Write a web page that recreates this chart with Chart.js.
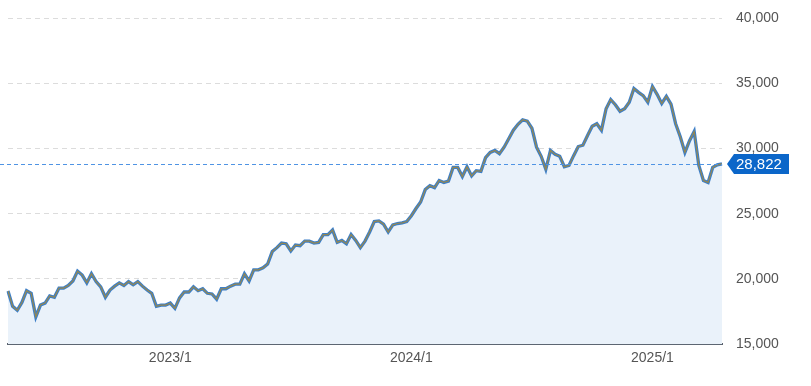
<!DOCTYPE html>
<html>
<head>
<meta charset="utf-8">
<script src="https://cdn.jsdelivr.net/npm/chart.js@4.4.1/dist/chart.umd.min.js"></script>
<style>
  body { margin: 0; background: #fff; }
  #wrap { width: 811px; height: 386px; position: relative; }
</style>
</head>
<body>
<div id="wrap"><canvas id="priceChart"></canvas></div>
<script>
// weekly closes, first one on 2022/5/6
const startDate = [2022, 5, 6];
const weeklyClose = [
  19080, 17900, 17600, 18200, 19100, 18900, 17100, 18000, 18150, 18700,
  18600, 19300, 19300, 19500, 19850, 20600, 20300, 19700, 20400, 19800,
  19400, 18600, 19150, 19450, 19700, 19500, 19800, 19550, 19800, 19450,
  19150, 18900, 17900, 18000, 18000,
  18150, 17750, 18550, 19000, 19000, 19400, 19100, 19250, 18900, 18850,
  18450, 19250, 19250, 19450, 19600, 19600, 20400, 19850, 20700, 20700,
  20850, 21150, 22100, 22400, 22750, 22700, 22150, 22600, 22550, 22900,
  22900, 22750, 22800, 23400, 23400, 23750, 22800, 22950, 22700, 23400,
  22950, 22400, 22900, 23600, 24400, 24450, 24200, 23600, 24150, 24250,
  24300, 24400, 24850, 25400, 25900, 26850, 27150, 27000, 27550, 27400,
  27500, 28550, 28550, 27850, 28600, 27900, 28300, 28250, 29300, 29700,
  29850, 29600, 30100, 30750, 31400, 31850, 32200, 32100, 31550, 30100,
  29400, 28400, 29850, 29550, 29400, 28600, 28700, 29450, 30150, 30250,
  31000, 31700, 31900, 31400, 33050, 33750, 33350, 32850, 33050, 33550,
  34600, 34300, 34050, 33550, 34750, 34150, 33450, 34000, 33400, 31900,
  30900, 29700, 30600, 31300, 28700, 27550, 27400, 28550, 28750, 28822
];
const yTicks = [15000, 20000, 25000, 30000, 35000, 40000];
const yearLabels = ["2023/1", "2024/1", "2025/1"];

// one label per week
const weekLabels = [];
const t0 = Date.UTC(startDate[0], startDate[1] - 1, startDate[2]);
for (let i = 0; i < weeklyClose.length; i++) {
  const d = new Date(t0 + i * 7 * 86400000);
  weekLabels.push(d.getUTCFullYear() + "/" + (d.getUTCMonth() + 1) + "/" + d.getUTCDate());
}

const lastPrice = weeklyClose[weeklyClose.length - 1];

const lastPriceTag = {
  id: "lastPriceTag",
  afterDatasetsDraw(chart) {
    const { ctx, chartArea, scales: { y } } = chart;
    const py = Math.round(y.getPixelForValue(lastPrice)) + 0.5;
    ctx.save();
    ctx.strokeStyle = "#4f94e4";
    ctx.lineWidth = 1;
    ctx.setLineDash([4, 3]);
    ctx.beginPath();
    ctx.moveTo(0, py);
    ctx.lineTo(chartArea.right, py);
    ctx.stroke();
    ctx.restore();
  },
  afterDraw(chart) {
    const { ctx, chartArea, scales: { y } } = chart;
    const py = Math.round(y.getPixelForValue(lastPrice));
    const x0 = chartArea.right + 5, x1 = x0 + 7, x2 = x0 + 62, h = 10;
    ctx.save();
    ctx.fillStyle = "#0b66c9";
    ctx.beginPath();
    ctx.moveTo(x0, py);
    ctx.lineTo(x1, py - h);
    ctx.lineTo(x2, py - h);
    ctx.lineTo(x2, py + h);
    ctx.lineTo(x1, py + h);
    ctx.closePath();
    ctx.fill();
    ctx.fillStyle = "#fff";
    ctx.font = "15px 'Liberation Sans', Arial, sans-serif";
    ctx.textAlign = "left";
    ctx.textBaseline = "middle";
    ctx.fillText(lastPrice.toLocaleString("en-US"), x1 + 2, py + 1);
    ctx.restore();
  }
};

const ctx = document.getElementById("priceChart").getContext("2d");
new Chart(ctx, {
  type: "line",
  data: {
    labels: weekLabels,
    datasets: [{
      data: weeklyClose,
      borderColor: "#958750",
      borderWidth: 1.2,
      pointRadius: 0,
      tension: 0,
      fill: false
    }, {
      data: weeklyClose,
      borderColor: "#3d7fc8",
      borderWidth: 3.3,
      pointRadius: 0,
      tension: 0,
      fill: "start",
      backgroundColor: "#eaf2fa"
    }]
  },
  options: {
    responsive: true,
    maintainAspectRatio: false,
    animation: false,
    layout: { padding: { top: 0, left: 8, right: 0, bottom: 13 } },
    plugins: { legend: { display: false }, tooltip: { enabled: false } },
    scales: {
      x: {
        grid: { display: false, drawTicks: false },
        border: { color: "#5b6470", width: 2 },
        ticks: {
          autoSkip: false,
          maxRotation: 0,
          padding: 6,
          color: "#555",
          font: { family: "'Liberation Sans', Arial, sans-serif", size: 14 },
          callback: function (val) {
            const p = this.getLabelForValue(val).split("/");
            const lab = p[0] + "/" + p[1];
            if (p[1] === "1" && +p[2] <= 7 && yearLabels.includes(lab)) return lab;
            return null;
          }
        }
      },
      y: {
        position: "right",
        min: yTicks[0],
        max: yTicks[yTicks.length - 1],
        afterBuildTicks: (scale) => { scale.ticks = yTicks.map(v => ({ value: v })); },
        afterFit: (scale) => { scale.width = 89; scale.paddingTop = 18; },
        grid: { color: "#dcdcdc", drawTicks: false },
        border: { display: false, dash: [5, 4] },
        ticks: {
          padding: 14,
          color: "#555",
          font: { family: "'Liberation Sans', Arial, sans-serif", size: 14 },
          callback: (v) => v.toLocaleString("en-US")
        }
      }
    }
  },
  plugins: [lastPriceTag]
});
</script>
</body>
</html>
